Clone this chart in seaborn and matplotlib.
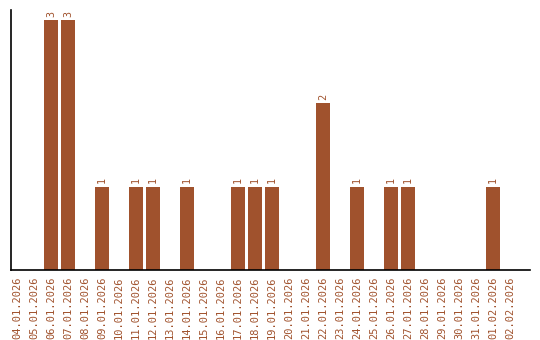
import matplotlib
matplotlib.use("Agg")
import matplotlib.pyplot as plt
import seaborn as sns
import pandas as pd

dates = ["04.01.2026", "05.01.2026", "06.01.2026", "07.01.2026", "08.01.2026",
         "09.01.2026", "10.01.2026", "11.01.2026", "12.01.2026", "13.01.2026",
         "14.01.2026", "15.01.2026", "16.01.2026", "17.01.2026", "18.01.2026",
         "19.01.2026", "20.01.2026", "21.01.2026", "22.01.2026", "23.01.2026",
         "24.01.2026", "25.01.2026", "26.01.2026", "27.01.2026", "28.01.2026",
         "29.01.2026", "30.01.2026", "31.01.2026", "01.02.2026", "02.02.2026"]
counts = [0, 0, 3, 3, 0, 1, 0, 1, 1, 0,
          1, 0, 0, 1, 1, 1, 0, 0, 2, 0,
          1, 0, 1, 1, 0, 0, 0, 0, 1, 0]

color = "#A0522D"
df = pd.DataFrame({"date": dates, "count": counts})

sns.set_style("white")
plt.rcParams['font.family'] = ['DejaVu Sans Mono', 'DejaVu Sans']

fig = plt.figure(figsize=(5.4, 3.4), dpi=100)
ax = fig.add_axes([11/540, 70/340, 519/540, 260/340])
sns.barplot(data=df, x="date", y="count", color=color, saturation=1, width=0.86,
            linewidth=0, ax=ax)

for i, v in enumerate(counts):
    if v > 0:
        ax.text(i, v + 0.04, str(v), rotation=90, ha="center", va="bottom",
                fontsize=7.3, color=color)

ax.set_xlim(-0.353, 30.18)
ax.set_ylim(0, 3.12)
ax.set_xlabel("")
ax.set_ylabel("")
ax.set_yticks([])
ax.tick_params(axis="x", rotation=90, labelsize=7.5, labelcolor=color, length=0, pad=5)
for s in ["top", "right"]:
    ax.spines[s].set_visible(False)
for s in ["left", "bottom"]:
    ax.spines[s].set_color("black")
    ax.spines[s].set_linewidth(1.2)

fig.savefig("out.png", dpi=100)
